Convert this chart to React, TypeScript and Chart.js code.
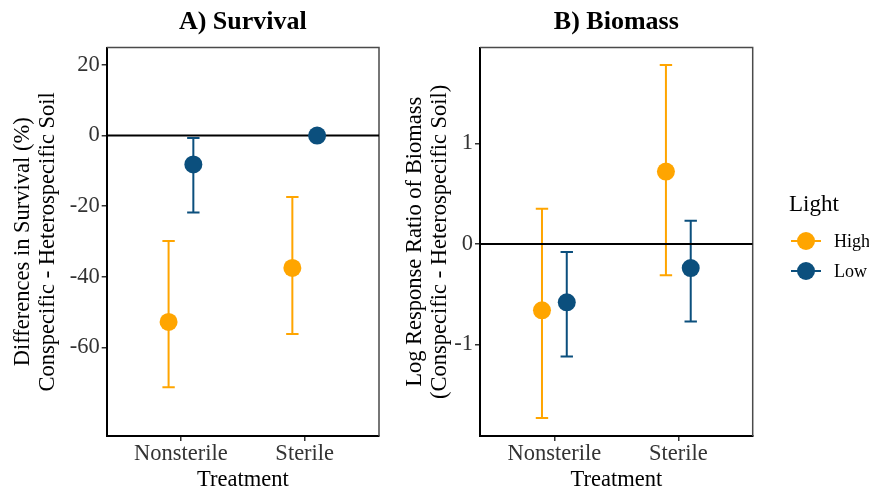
import React, { useEffect, useRef } from 'react';
import { Chart, registerables } from 'chart.js';

Chart.register(...registerables);

const FONT = "'Liberation Serif', 'Times New Roman', serif";

const CATEGORIES = ['Nonsterile', 'Sterile'];
const SERIES = ['High', 'Low'];
const COLORS = ['#FFA500', '#0B4F7D'];
const LEGEND_TITLE = 'Light';
const X_TITLE = 'Treatment';

// Panel A: Survival (%)
const SURV_MEAN_HIGH = [-52.8, -37.5];
const SURV_LO_HIGH = [-71.3, -56.2];
const SURV_HI_HIGH = [-29.9, -17.4];
const SURV_MEAN_LOW = [-8.2, 0];
const SURV_LO_LOW = [-21.8, 0];
const SURV_HI_LOW = [-0.7, 0];
const SURV_TICKS = [-60, -40, -20, 0, 20];

// Panel B: Biomass (log response ratio)
const BIO_MEAN_HIGH = [-0.66, 0.72];
const BIO_LO_HIGH = [-1.73, -0.31];
const BIO_HI_HIGH = [0.35, 1.78];
const BIO_MEAN_LOW = [-0.58, -0.24];
const BIO_LO_LOW = [-1.12, -0.77];
const BIO_HI_LOW = [-0.08, 0.23];
const BIO_TICKS = [-1, 0, 1];

const X_MIN = 0.4;
const X_MAX = 2.6;
const DODGE = 0.1;
const CAP = 0.05;

type PanelProps = {
  title: string;
  yTitle: string[];
  means: number[][];
  los: number[][];
  his: number[][];
  yMin: number;
  yMax: number;
  yTicks: number[];
  left: number;
  width: number;
  yAxisWidth: number;
  rightPad: number;
};

function Panel(p: PanelProps) {
  const ref = useRef<HTMLCanvasElement | null>(null);
  useEffect(() => {
    const canvas = ref.current!;
    const errPlugin = {
      id: 'errbars',
      beforeDatasetsDraw(chart: any) {
        const { ctx, chartArea } = chart;
        const x = chart.scales.x;
        const y = chart.scales.y;
        ctx.save();
        // top/right frame
        ctx.strokeStyle = '#4a4a4a';
        ctx.lineWidth = 1.5;
        ctx.beginPath();
        ctx.moveTo(chartArea.left, chartArea.top);
        ctx.lineTo(chartArea.right, chartArea.top);
        ctx.lineTo(chartArea.right, chartArea.bottom);
        ctx.stroke();
        p.means.forEach((_, s) => {
          ctx.strokeStyle = COLORS[s];
          ctx.lineWidth = 2;
          CATEGORIES.forEach((_, i) => {
            const xv = i + 1 + (s === 0 ? -DODGE : DODGE);
            const px = x.getPixelForValue(xv);
            const pl = x.getPixelForValue(xv - CAP);
            const pr = x.getPixelForValue(xv + CAP);
            const pTop = y.getPixelForValue(p.his[s][i]);
            const pBot = y.getPixelForValue(p.los[s][i]);
            ctx.beginPath();
            ctx.moveTo(px, pTop);
            ctx.lineTo(px, pBot);
            ctx.moveTo(pl, pTop);
            ctx.lineTo(pr, pTop);
            ctx.moveTo(pl, pBot);
            ctx.lineTo(pr, pBot);
            ctx.stroke();
          });
        });
        ctx.restore();
      },
    };

    const pointSets = p.means.map((m, s) => ({
      type: 'scatter' as const,
      label: SERIES[s],
      data: m.map((v, i) => ({ x: i + 1 + (s === 0 ? -DODGE : DODGE), y: v })),
      backgroundColor: COLORS[s],
      borderColor: COLORS[s],
      pointRadius: 9,
      pointBorderWidth: 0,
      showLine: false,
    }));

    const tickFont = { family: FONT, size: 22.5, lineHeight: 1.1 };

    const chart = new Chart(canvas, {
      type: 'scatter',
      data: {
        datasets: [
          ...pointSets,
          {
            type: 'line',
            label: 'zero',
            data: [
              { x: X_MIN, y: 0 },
              { x: X_MAX, y: 0 },
            ],
            borderColor: '#000',
            borderWidth: 2,
            pointRadius: 0,
            showLine: true,
          } as any,
        ],
      },
      options: {
        animation: false,
        responsive: false,
        maintainAspectRatio: false,
        layout: { padding: { left: 0, right: p.rightPad, top: 0, bottom: 0 } },
        plugins: {
          legend: { display: false },
          tooltip: { enabled: false },
          title: {
            display: true,
            text: p.title,
            fullSize: false,
            color: '#000',
            font: { family: FONT, size: 26, weight: 'bold', lineHeight: 1.2 },
            padding: { top: 6.7, bottom: 9.7 },
          },
        },
        scales: {
          x: {
            type: 'linear',
            min: X_MIN,
            max: X_MAX,
            afterBuildTicks: (s: any) => {
              s.ticks = CATEGORIES.map((_, i) => ({ value: i + 1 }));
            },
            afterFit: (s: any) => {
              s.height = 56;
            },
            ticks: {
              callback: (_v: any, i: number) => CATEGORIES[i],
              font: tickFont,
              color: '#333',
              padding: 1,
              autoSkip: false,
              maxRotation: 0,
            },
            grid: { drawOnChartArea: false, tickLength: 5, color: '#333', lineWidth: 1.5 },
            border: { color: '#000', width: 2 },
            title: {
              display: true,
              text: X_TITLE,
              color: '#000',
              font: tickFont,
              padding: { top: 0, bottom: 0 },
            },
          },
          y: {
            type: 'linear',
            min: p.yMin,
            max: p.yMax,
            afterBuildTicks: (s: any) => {
              s.ticks = p.yTicks.map((v) => ({ value: v }));
            },
            afterFit: (s: any) => {
              s.width = p.yAxisWidth;
            },
            ticks: {
              callback: (v: any) => String(v),
              font: tickFont,
              color: '#333',
              padding: 2,
            },
            grid: { drawOnChartArea: false, tickLength: 5, color: '#333', lineWidth: 1.5 },
            border: { color: '#000', width: 2 },
            title: {
              display: true,
              text: p.yTitle,
              color: '#000',
              font: { family: FONT, size: 22.5, lineHeight: 1.11 },
              padding: { top: 10.5, bottom: 0 },
            },
          },
        },
      } as any,
      plugins: [errPlugin],
    });
    return () => chart.destroy();
  }, []);

  return (
    <canvas
      ref={ref}
      width={p.width}
      height={492}
      style={{ position: 'absolute', left: p.left, top: 0, width: p.width, height: 492 }}
    />
  );
}

function LegendKey({ color, top }: { color: string; top: number }) {
  return (
    <svg
      width={30}
      height={20}
      style={{ position: 'absolute', left: 791, top: top - 10 }}
    >
      <line x1={0} y1={10} x2={30} y2={10} stroke={color} strokeWidth={2} />
      <circle cx={15} cy={10} r={9} fill={color} />
    </svg>
  );
}

export default function App() {
  const legendRows = [240.7, 270.7];
  return (
    <div
      style={{
        position: 'fixed',
        left: 0,
        top: 0,
        width: 869,
        height: 492,
        overflow: 'hidden',
        background: '#fff',
        fontFamily: FONT,
      }}
    >
      <Panel
        title="A) Survival"
        yTitle={['Differences in Survival (%)', 'Conspecific - Heterospecific Soil']}
        means={[SURV_MEAN_HIGH, SURV_MEAN_LOW]}
        los={[SURV_LO_HIGH, SURV_LO_LOW]}
        his={[SURV_HI_HIGH, SURV_HI_LOW]}
        yMin={-85.1}
        yMax={24.9}
        yTicks={SURV_TICKS}
        left={0}
        width={392}
        yAxisWidth={106.7}
        rightPad={13}
      />
      <Panel
        title="B) Biomass"
        yTitle={['Log Response Ratio of Biomass', '(Conspecific - Heterospecific Soil)']}
        means={[BIO_MEAN_HIGH, BIO_MEAN_LOW]}
        los={[BIO_LO_HIGH, BIO_LO_LOW]}
        his={[BIO_HI_HIGH, BIO_HI_LOW]}
        yMin={-1.91}
        yMax={1.953}
        yTicks={BIO_TICKS}
        left={392}
        width={477}
        yAxisWidth={88}
        rightPad={116.3}
      />
      <div
        style={{
          position: 'absolute',
          left: 789,
          top: 191.5,
          fontSize: 23,
          lineHeight: '23px',
          color: '#000',
          whiteSpace: 'nowrap',
        }}
      >
        {LEGEND_TITLE}
      </div>
      {SERIES.map((s, i) => (
        <React.Fragment key={s}>
          <LegendKey color={COLORS[i]} top={legendRows[i]} />
          <div
            style={{
              position: 'absolute',
              left: 834,
              top: legendRows[i] - 9,
              fontSize: 18,
              lineHeight: '18px',
              color: '#000',
              whiteSpace: 'nowrap',
            }}
          >
            {s}
          </div>
        </React.Fragment>
      ))}
    </div>
  );
}
